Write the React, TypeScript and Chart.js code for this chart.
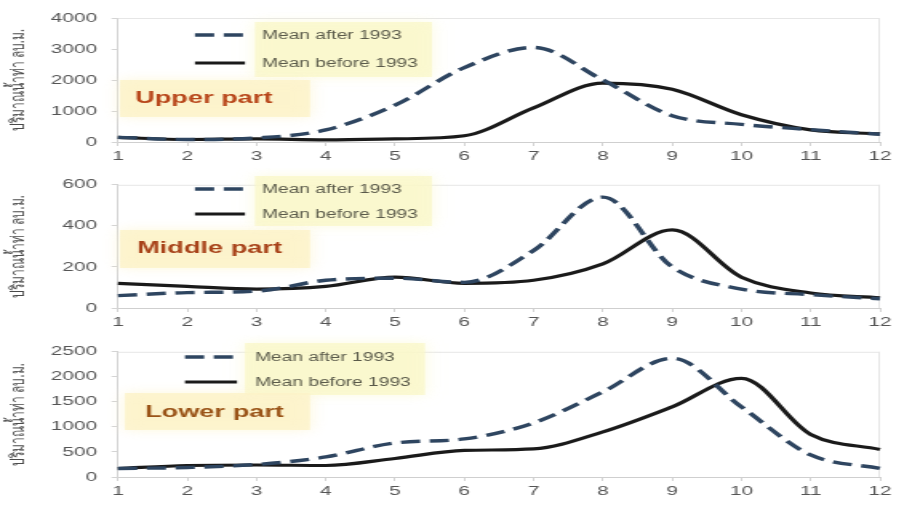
import React, { useEffect, useRef } from 'react';
import { Chart, registerables } from 'chart.js';

Chart.register(...registerables);

// ---------- data ----------
const months = ['1', '2', '3', '4', '5', '6', '7', '8', '9', '10', '11', '12'];
const seriesLabels = ['Mean after 1993', 'Mean before 1993'];
const yTitle = 'ปริมาณน้ำท่า ลบ.ม.';
const partNames = ['Upper part', 'Middle part', 'Lower part'];

const upperAfter = [150, 80, 130, 390, 1190, 2400, 3050, 2000, 850, 570, 400, 250];
const upperBefore = [150, 80, 100, 70, 100, 200, 1100, 1900, 1700, 880, 390, 260];

const middleAfter = [60, 75, 82, 135, 145, 125, 280, 540, 200, 92, 65, 45];
const middleBefore = [120, 105, 92, 105, 150, 120, 135, 215, 380, 150, 73, 50];

const lowerAfter = [170, 190, 250, 400, 680, 760, 1080, 1700, 2370, 1400, 440, 170];
const lowerBefore = [170, 230, 240, 230, 370, 530, 560, 900, 1400, 1970, 850, 550];

const yMaxes = [4000, 600, 2500];
const ySteps = [1000, 200, 500];

// ---------- layout (page px) ----------
const SX = 1.6;
const CW = 561;

type PanelCfg = {
  top: number;
  h: number;
  areaTop: number;
  areaBottom: number;
  legend: { x0: number; x1: number; tx: number; y: number[] };
  legendBox: number[];
  label: { x: number; y: number; color: string };
  labelBox: number[];
};

const panels: PanelCfg[] = [
  {
    top: 0, h: 168, areaTop: 18, areaBottom: 142,
    legend: { x0: 195, x1: 245, tx: 262, y: [35, 63] },
    legendBox: [255, 22, 432, 77],
    label: { x: 135, y: 98, color: '#b8461a' },
    labelBox: [120, 80, 310, 117],
  },
  {
    top: 168, h: 167, areaTop: 9, areaBottom: 140,
    legend: { x0: 195, x1: 245, tx: 262, y: [21, 46] },
    legendBox: [255, 8, 432, 58],
    label: { x: 137, y: 80, color: '#a8431a' },
    labelBox: [120, 62, 310, 100],
  },
  {
    top: 335, h: 171, areaTop: 10, areaBottom: 142,
    legend: { x0: 185, x1: 237, tx: 255, y: [22, 47] },
    legendBox: [245, 8, 425, 60],
    label: { x: 145, y: 77, color: '#9a5418' },
    labelBox: [125, 58, 310, 95],
  },
];

const notesPlugin = {
  id: 'panelNotes',
  beforeDatasetsDraw(chart: any, _args: any, opts: any) {
    const ctx = chart.ctx;
    const p: PanelCfg = opts.panel;
    const a = chart.chartArea;
    ctx.save();
    // faint frame
    ctx.strokeStyle = '#e6e6e6';
    ctx.lineWidth = 1;
    ctx.beginPath();
    ctx.moveTo(a.left, a.top + 0.5);
    ctx.lineTo(a.right, a.top + 0.5);
    ctx.moveTo(a.right - 0.5, a.top);
    ctx.lineTo(a.right - 0.5, a.bottom);
    ctx.stroke();
    // soft boxes
    const box = (b: number[], color: string) => {
      ctx.save();
      ctx.fillStyle = color;
      ctx.shadowColor = color;
      ctx.shadowBlur = 10;
      ctx.fillRect(b[0] / SX, b[1], (b[2] - b[0]) / SX, b[3] - b[1]);
      ctx.restore();
    };
    box(p.legendBox, 'rgba(250, 247, 200, 0.75)');
    box(p.labelBox, 'rgba(252, 243, 200, 0.8)');
    ctx.restore();
  },
  afterDatasetsDraw(chart: any, _args: any, opts: any) {
    const ctx = chart.ctx;
    const p: PanelCfg = opts.panel;
    ctx.save();
    chart.data.datasets.forEach((ds: any, i: number) => {
      const y = p.legend.y[i];
      ctx.strokeStyle = ds.borderColor;
      ctx.lineWidth = ds.borderWidth;
      ctx.setLineDash(ds.borderDash || []);
      ctx.beginPath();
      ctx.moveTo(p.legend.x0 / SX, y);
      ctx.lineTo(p.legend.x1 / SX, y);
      ctx.stroke();
      ctx.setLineDash([]);
      ctx.fillStyle = '#5a5a4a';
      ctx.font = '12px "Liberation Sans", Arial, sans-serif';
      ctx.textBaseline = 'middle';
      ctx.textAlign = 'left';
      ctx.fillText(ds.label, p.legend.tx / SX, y + 1);
    });
    ctx.fillStyle = p.label.color;
    ctx.font = 'bold 17px "Liberation Sans", Arial, sans-serif';
    ctx.textBaseline = 'middle';
    ctx.fillText(opts.name, p.label.x / SX, p.label.y);
    ctx.restore();
  },
};

function Panel({ idx, after, before }: { idx: number; after: number[]; before: number[] }) {
  const ref = useRef<HTMLCanvasElement | null>(null);
  const p = panels[idx];
  useEffect(() => {
    if (!ref.current) return;
    const tickFont = { family: '"Liberation Sans", Arial, sans-serif', size: 13 };
    const chart = new Chart(ref.current, {
      type: 'line',
      data: {
        labels: months,
        datasets: [
          {
            label: seriesLabels[0],
            data: after,
            borderColor: '#2e4560',
            borderWidth: 3.4,
            borderDash: [12, 6],
            pointRadius: 0,
            cubicInterpolationMode: 'monotone',
            fill: false,
          },
          {
            label: seriesLabels[1],
            data: before,
            borderColor: '#1a1a1a',
            borderWidth: 3.2,
            pointRadius: 0,
            cubicInterpolationMode: 'monotone',
            fill: false,
          },
        ],
      },
      options: {
        responsive: false,
        animation: false,
        events: [],
        layout: {
          padding: { left: 0, right: CW - 880 / SX, top: p.areaTop, bottom: p.h - p.areaBottom - 26 },
        },
        plugins: {
          legend: { display: false },
          tooltip: { enabled: false },
          panelNotes: { panel: p, name: partNames[idx] },
        } as any,
        scales: {
          x: {
            type: 'category',
            offset: false,
            grid: { drawOnChartArea: false, drawTicks: true, tickLength: 4, color: '#d4d4d4' },
            border: { display: true, color: '#cfcfcf' },
            ticks: { color: '#555', font: tickFont, padding: 3, maxRotation: 0, autoSkip: false },
            afterFit: (s: any) => { s.height = 26; },
          },
          y: {
            min: 0,
            max: yMaxes[idx],
            grid: { drawOnChartArea: false, drawTicks: true, tickLength: 4, color: '#d4d4d4' },
            border: { display: true, color: '#d4d4d4' },
            ticks: {
              stepSize: ySteps[idx],
              color: '#555',
              font: tickFont,
              padding: 9,
              callback: (v: any) => String(v),
            },
            title: {
              display: true,
              text: yTitle,
              color: '#4a4a4a',
              font: { family: '"Noto Sans", "DejaVu Sans", sans-serif', size: 12 },
              padding: { top: 4, bottom: 0 },
            },
            afterFit: (s: any) => { s.width = 118 / SX; },
          },
        },
      },
      plugins: [notesPlugin],
    } as any);
    return () => chart.destroy();
  }, []);
  return (
    <div
      style={{
        position: 'absolute',
        left: 0,
        top: p.top,
        width: CW,
        height: p.h,
        transform: `scaleX(${SX})`,
        transformOrigin: '0 0',
      }}
    >
      <canvas ref={ref} width={CW} height={p.h} />
    </div>
  );
}

export default function App() {
  return (
    <div style={{ position: 'absolute', left: 0, top: 0, width: 897, height: 506, background: '#fff', overflow: 'hidden' }}>
      <Panel idx={0} after={upperAfter} before={upperBefore} />
      <Panel idx={1} after={middleAfter} before={middleBefore} />
      <Panel idx={2} after={lowerAfter} before={lowerBefore} />
    </div>
  );
}
